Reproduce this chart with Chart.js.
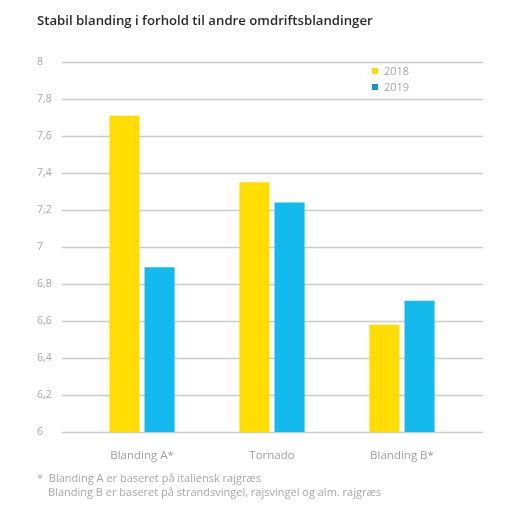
<!DOCTYPE html>
<html>
<head>
<meta charset="utf-8">
<script src="https://cdn.jsdelivr.net/npm/chart.js@4.4.1/dist/chart.umd.min.js"></script>
<style>
  body { margin: 0; background: #fff; font-family: "Open Sans", sans-serif; }
  #wrap { position: relative; width: 522px; height: 515px; overflow: hidden; }
  #chart { position: absolute; left: 0; top: 0; }
  .title { position: absolute; left: 37px; top: 11px; font-size: 13.2px; font-weight: 600; color: #2b2b2b; white-space: nowrap; }
  .legend { position: absolute; left: 372px; font-size: 11px; color: #a8a8a8; line-height: 14px; white-space: nowrap; }
  .legend span { display: inline-block; width: 6px; height: 6px; margin-right: 6px; vertical-align: 1px; }
  .note { position: absolute; left: 37px; top: 471px; font-size: 11px; color: #a8a8a8; line-height: 14px; white-space: nowrap; }
  .note .ind { padding-left: 11px; }
</style>
</head>
<body>
<div id="wrap">
  <canvas id="chart" width="522" height="515"></canvas>
  <div class="title">Stabil blanding i forhold til andre omdriftsblandinger</div>
  <div class="legend" style="top:64px"><span style="background:#ffdd00"></span>2018</div>
  <div class="legend" style="top:80px"><span style="background:#1b93d1"></span>2019</div>
  <div class="note">*&nbsp;&nbsp;Blanding A er baseret på italiensk rajgræs<br><span class="ind">Blanding B er baseret på strandsvingel, rajsvingel og alm. rajgræs</span></div>
</div>
<script>
const categories = ["Blanding A*", "Tornado", "Blanding B*"];
const values2018 = [7.71, 7.35, 6.58];
const values2019 = [6.89, 7.24, 6.71];
const yTickLabels = ["6", "6,2", "6,4", "6,6", "6,8", "7", "7,2", "7,4", "7,6", "7,8", "8"];

// grid lines run a bit wider than the bar area
const wideGrid = {
  id: "wideGrid",
  beforeDatasetsDraw(chart) {
    const ctx = chart.ctx;
    const area = chart.chartArea;
    const y = chart.scales.y;
    ctx.save();
    ctx.strokeStyle = "#cbcbcb";
    ctx.lineWidth = 1.5;
    y.ticks.forEach(function (t) {
      const py = Math.round(y.getPixelForValue(t.value)) + 0.5;
      ctx.beginPath();
      ctx.moveTo(area.left - 15, py);
      ctx.lineTo(area.right + 16, py);
      ctx.stroke();
    });
    ctx.restore();
  }
};

new Chart(document.getElementById("chart"), {
  type: "bar",
  data: {
    labels: categories,
    datasets: [
      { label: "2018", data: values2018, backgroundColor: "#ffdd00" },
      { label: "2019", data: values2019, backgroundColor: "#12baed" }
    ]
  },
  options: {
    responsive: false,
    animation: false,
    devicePixelRatio: 1,
    categoryPercentage: 0.54,
    barPercentage: 0.857,
    layout: { padding: { left: 37, right: 55, top: 62, bottom: 53 } },
    plugins: {
      legend: { display: false },
      title: { display: false },
      tooltip: { enabled: false }
    },
    scales: {
      x: {
        grid: { display: false },
        border: { display: false },
        ticks: { color: "#a0a0a0", padding: 9, font: { family: "Open Sans", size: 11.5 } },
        afterFit(scale) { scale.height = 30; }
      },
      y: {
        min: 6,
        max: 8,
        grid: { display: false },
        border: { display: false },
        ticks: {
          stepSize: 0.2,
          color: "#a8a8a8",
          crossAlign: "far",
          padding: 0,
          font: { family: "Open Sans", size: 10.5 },
          callback: function (value, index) { return yTickLabels[index]; }
        },
        afterFit(scale) { scale.width = 40; }
      }
    }
  },
  plugins: [wideGrid]
});
</script>
</body>
</html>
